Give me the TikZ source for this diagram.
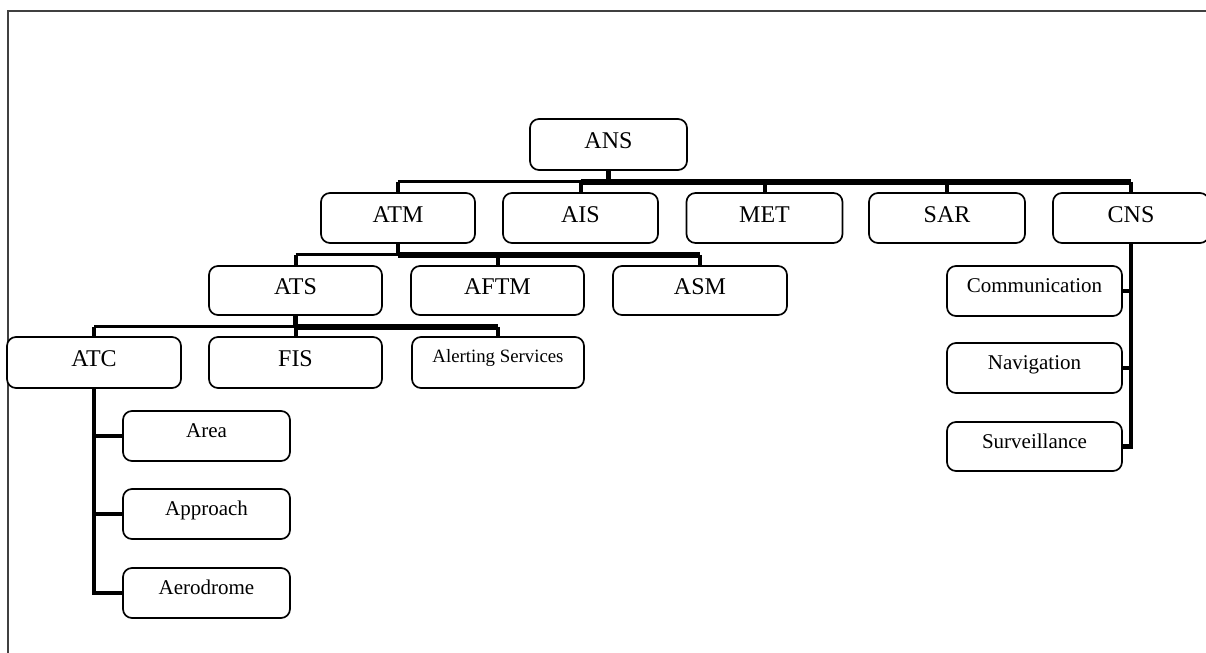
\documentclass[tikz,border=0pt]{standalone}
\usepackage{fontspec}
\setmainfont{Liberation Serif}
\begin{document}
\begin{tikzpicture}[x=0.5pt,y=-0.5pt,
  box/.style={draw=black, line width=0.85pt, rounded corners=4.5pt, inner sep=0pt, fill=white},
  big/.style={box, font=\fontsize{12}{14}\selectfont, text height=8pt, text depth=4pt},
  mid/.style={box, font=\fontsize{10.5}{12}\selectfont, text height=7pt, text depth=5.5pt},
  tiny/.style={box, font=\fontsize{9.4}{11}\selectfont, text height=6.3pt, text depth=6pt},
  bus/.style={draw=black, line width=1.5pt},
  heavy/.style={draw=black, line width=2.7pt},
  stub/.style={draw=black, line width=2pt},
  stem/.style={draw=black, line width=2.4pt},
  frame/.style={draw=black!75, line width=0.75pt}
]
\useasboundingbox (0,0) rectangle (1206,653);
\draw[frame] (1206,11) -- (8,11) -- (8,653);

% level 1
\node[big, minimum width=78.5pt, minimum height=25.5pt] (ANS) at (608.5,144.5) {ANS};
% level 2
\node[big, minimum width=77pt, minimum height=25pt] (ATM) at (398,218) {ATM};
\node[big, minimum width=77.5pt, minimum height=25pt] (AIS) at (580.5,218) {AIS};
\node[big, minimum width=78pt, minimum height=25pt] (MET) at (764.5,218) {MET};
\node[big, minimum width=78pt, minimum height=25pt] (SAR) at (947,218) {SAR};
\node[big, minimum width=78pt, minimum height=25pt] (CNS) at (1131,218) {CNS};
% level 3
\node[big, minimum width=86.5pt, minimum height=24.5pt] (ATS) at (295.5,290.5) {ATS};
\node[big, minimum width=86.5pt, minimum height=24.5pt] (AFTM) at (497.5,290.5) {AFTM};
\node[big, minimum width=87pt, minimum height=24.5pt] (ASM) at (700,290.5) {ASM};
% level 4
\node[big, minimum width=87pt, minimum height=25.5pt] (ATC) at (94,362.5) {ATC};
\node[big, minimum width=86.5pt, minimum height=25.5pt] (FIS) at (295.5,362.5) {FIS};
\node[tiny, minimum width=86pt, minimum height=25.5pt] (ALS) at (498,362.5) {Alerting Services};
% ATC children
\node[mid, minimum width=83.5pt, minimum height=25pt] (Area) at (206.5,436) {Area};
\node[mid, minimum width=83.5pt, minimum height=25pt] (Appr) at (206.5,514) {Approach};
\node[mid, minimum width=83.5pt, minimum height=25pt] (Aero) at (206.5,593) {Aerodrome};
% CNS children
\node[mid, minimum width=87.5pt, minimum height=25pt] (Comm) at (1034.5,291) {Communication};
\node[mid, minimum width=87.5pt, minimum height=25pt] (Navi) at (1034.5,368) {Navigation};
\node[mid, minimum width=87.5pt, minimum height=24.5pt] (Surv) at (1034.5,446.5) {Surveillance};

% bus coordinates
\path (ANS.south) ++(0,11) coordinate (busA);
\path (ATM.south) ++(0,11) coordinate (busB);
\path (ATS.south) ++(0,11) coordinate (busC);

% ANS
\draw[bus] (busA -| ATM.north) -- (busA -| CNS.north);
\draw[heavy] (busA -| AIS.north) -- (busA -| CNS.north);
\foreach \c in {ATM,AIS,MET,SAR,CNS}
  \draw[stub] (busA -| \c.north) -- (\c.north);
\draw[stem] (ANS.south) -- (busA);
% ATM
\draw[bus] (busB -| ATS.north) -- (busB -| ASM.north);
\draw[heavy] (busB) -- (busB -| ASM.north);
\foreach \c in {ATS,AFTM,ASM}
  \draw[stub] (busB -| \c.north) -- (\c.north);
\draw[stem] (ATM.south) -- (busB);
% ATS
\draw[bus] (busC -| ATC.north) -- (busC -| ALS.north);
\draw[heavy] (busC) -- (busC -| ALS.north);
\foreach \c in {ATC,FIS,ALS}
  \draw[stub] (busC -| \c.north) -- (\c.north);
\draw[stem] (ATS.south) -- (busC);
% ATC and CNS
\foreach \c in {Area,Appr,Aero}
  \draw[stem] (ATC.south) |- (\c.west);
\foreach \c in {Comm,Navi,Surv}
  \draw[stem] (CNS.south) |- (\c.east);
\end{tikzpicture}
\end{document}
